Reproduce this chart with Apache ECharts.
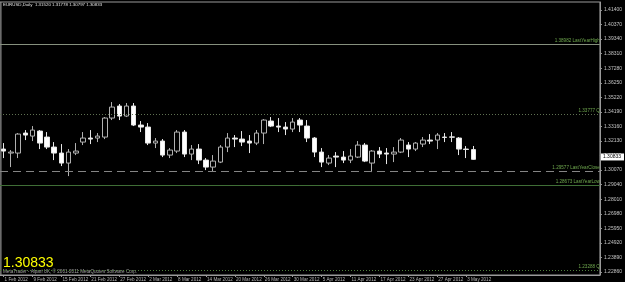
<!DOCTYPE html>
<html>
<head>
<meta charset="utf-8">
<script src="https://cdn.jsdelivr.net/npm/echarts@6/dist/echarts.min.js"></script>
<style>
  html, body { margin: 0; padding: 0; background: #000; }
  #chart { width: 625px; height: 282px; }
</style>
</head>
<body>
<div id="chart"></div>
<script>
// daily bars, EURUSD
var dates = ['3 Feb 2012', '6 Feb 2012', '7 Feb 2012', '8 Feb 2012', '9 Feb 2012', '10 Feb 2012',
  '13 Feb 2012', '14 Feb 2012', '15 Feb 2012', '16 Feb 2012', '17 Feb 2012',
  '20 Feb 2012', '21 Feb 2012', '22 Feb 2012', '23 Feb 2012', '24 Feb 2012',
  '27 Feb 2012', '28 Feb 2012', '29 Feb 2012', '1 Mar 2012', '2 Mar 2012',
  '5 Mar 2012', '6 Mar 2012', '7 Mar 2012', '8 Mar 2012', '9 Mar 2012',
  '12 Mar 2012', '13 Mar 2012', '14 Mar 2012', '15 Mar 2012', '16 Mar 2012',
  '19 Mar 2012', '20 Mar 2012', '21 Mar 2012', '22 Mar 2012', '23 Mar 2012',
  '26 Mar 2012', '27 Mar 2012', '28 Mar 2012', '29 Mar 2012', '30 Mar 2012',
  '2 Apr 2012', '3 Apr 2012', '4 Apr 2012', '5 Apr 2012', '6 Apr 2012',
  '9 Apr 2012', '10 Apr 2012', '11 Apr 2012', '12 Apr 2012', '13 Apr 2012',
  '16 Apr 2012', '17 Apr 2012', '18 Apr 2012', '19 Apr 2012', '20 Apr 2012',
  '23 Apr 2012', '24 Apr 2012', '25 Apr 2012', '26 Apr 2012', '27 Apr 2012',
  '30 Apr 2012', '1 May 2012', '2 May 2012', '3 May 2012', '4 May 2012'];

var open = [1.31559, 1.31276, 1.31276, 1.32692, 1.32479, 1.32833,
  1.32408, 1.31700, 1.31276, 1.30568, 1.31276,
  1.32054, 1.32338, 1.32338, 1.32408, 1.33754,
  1.34603, 1.33895, 1.34603, 1.33258, 1.33116,
  1.31984, 1.32125, 1.31134, 1.31417, 1.32762,
  1.31205, 1.31559, 1.30780, 1.30284, 1.30638,
  1.31700, 1.32338, 1.32267, 1.32125, 1.31984,
  1.32692, 1.33541, 1.33187, 1.33116, 1.32975,
  1.33612, 1.33187, 1.32338, 1.31346, 1.30568,
  1.31063, 1.30992, 1.30780, 1.30992, 1.31842,
  1.30568, 1.31417, 1.31276, 1.31205, 1.31346,
  1.31842, 1.31559, 1.31913, 1.32196, 1.32196,
  1.32408, 1.32420, 1.32338, 1.31559, 1.31520];

var close = [1.31417, 1.31346, 1.32621, 1.32550, 1.32904, 1.31984,
  1.31700, 1.31276, 1.30568, 1.31346, 1.31417,
  1.32338, 1.32267, 1.32479, 1.33754, 1.34532,
  1.33895, 1.34603, 1.33258, 1.33116, 1.31984,
  1.32125, 1.31134, 1.31488, 1.32762, 1.31205,
  1.31559, 1.30780, 1.30284, 1.30709, 1.31700,
  1.32338, 1.32267, 1.32054, 1.31984, 1.32692,
  1.33612, 1.33187, 1.33116, 1.32975, 1.33470,
  1.33258, 1.32338, 1.31346, 1.30638, 1.30922,
  1.30992, 1.30780, 1.31063, 1.31842, 1.30709,
  1.31417, 1.31205, 1.31205, 1.31346, 1.32196,
  1.31559, 1.31984, 1.32196, 1.32125, 1.32550,
  1.32380, 1.32400, 1.31559, 1.31530, 1.30833];

var low = [1.30922, 1.30284, 1.30922, 1.32196, 1.32125, 1.31559,
  1.31559, 1.30780, 1.30355, 1.29647, 1.31134,
  1.31842, 1.31913, 1.32054, 1.32267, 1.33612,
  1.33612, 1.33824, 1.33187, 1.32762, 1.31842,
  1.31630, 1.30992, 1.30922, 1.31276, 1.30992,
  1.30780, 1.30497, 1.30072, 1.30001, 1.30568,
  1.31346, 1.31700, 1.31771, 1.31276, 1.31842,
  1.31913, 1.33116, 1.32762, 1.32550, 1.32762,
  1.32762, 1.32054, 1.30992, 1.30284, 1.30426,
  1.30284, 1.30568, 1.30568, 1.30922, 1.30638,
  1.29930, 1.30922, 1.30497, 1.30638, 1.31276,
  1.30992, 1.31417, 1.31700, 1.31913, 1.31559,
  1.32054, 1.32054, 1.31134, 1.30922, 1.30797];

var high = [1.31984, 1.31488, 1.32692, 1.32904, 1.33187, 1.32904,
  1.32762, 1.32054, 1.31913, 1.31559, 1.31984,
  1.32762, 1.32904, 1.32692, 1.33824, 1.34886,
  1.34745, 1.34816, 1.34816, 1.33541, 1.33400,
  1.32338, 1.32267, 1.31630, 1.32904, 1.32904,
  1.31842, 1.31913, 1.30922, 1.31134, 1.31842,
  1.32692, 1.32550, 1.32833, 1.32550, 1.32904,
  1.33683, 1.33824, 1.33754, 1.33470, 1.33754,
  1.33754, 1.33612, 1.32408, 1.31630, 1.31134,
  1.31346, 1.31417, 1.31559, 1.32125, 1.31984,
  1.31488, 1.31700, 1.31630, 1.31700, 1.32338,
  1.32054, 1.32054, 1.32408, 1.32621, 1.32692,
  1.32692, 1.32762, 1.32408, 1.31771, 1.31778];

// labels along the time axis
var dateTicks = ['1 Feb 2012', '9 Feb 2012', '15 Feb 2012', '21 Feb 2012', '27 Feb 2012',
  '2 Mar 2012', '8 Mar 2012', '14 Mar 2012', '20 Mar 2012', '26 Mar 2012', '30 Mar 2012',
  '5 Apr 2012', '11 Apr 2012', '17 Apr 2012', '23 Apr 2012', '27 Apr 2012', '3 May 2012'];

// price scale labels
var priceTicks = [1.41400, 1.40370, 1.39340, 1.38310, 1.37280, 1.36250, 1.35220, 1.34190,
  1.33160, 1.32130, 1.31100, 1.30070, 1.29040, 1.28010, 1.26980, 1.25950, 1.24920,
  1.23890, 1.22860];

// horizontal levels
var levelValues = [1.38982, 1.33777, 1.29577, 1.28673, 1.23288];
var levelNames = ['LastYearHigh', 'Q', 'LastYearClose', 'LastYearLow', 'Q'];

var symbolName = 'EURUSD,Daily';
var copyright = 'MetaTrader - Alpari UK, \u00a9 2001-2011 MetaQuotes Software Corp.';

var levelStyles = [
  { color: '#86907e', type: 'solid' },
  { color: '#5f7152', type: [1, 2] },
  { color: '#858585', type: [8, 5] },
  { color: '#3f6e36', type: 'solid' },
  { color: '#4f7e3c', type: [1, 2] }
];

var ohlc = [];
for (var i = 0; i < dates.length; i++) {
  ohlc.push([open[i], close[i], low[i], high[i]]);
}
var last = dates.length - 1;

var markData = levelValues.map(function (v, k) {
  return {
    yAxis: v,
    lineStyle: { color: levelStyles[k].color, type: levelStyles[k].type, width: 1 },
    label: {
      show: true,
      position: 'insideEndTop',
      distance: [0, 1],
      formatter: v.toFixed(5) + ' ' + levelNames[k],
      color: '#6fa84e',
      fontSize: 4.6,
      fontFamily: 'Liberation Sans'
    }
  };
});
// current price box
markData.push({
  yAxis: close[last],
  lineStyle: { color: 'rgba(0,0,0,0)', width: 1 },
  label: {
    show: true,
    position: 'end',
    distance: 1,
    formatter: close[last].toFixed(5),
    color: '#000',
    backgroundColor: '#fff',
    padding: [1, 3, 1, 2],
    fontSize: 5,
    fontFamily: 'Liberation Sans'
  }
});

function tickShown(idx) {
  if (idx >= dates.length) return false;
  if (idx === 0) return true;
  return dateTicks.indexOf(dates[idx]) > 0;
}

var myChart = echarts.init(document.getElementById('chart'), null, { renderer: 'canvas' });

var option = {
  backgroundColor: '#000',
  animation: false,
  grid: {
    left: -2,
    right: 17,
    top: 2,
    bottom: 7,
    show: true,
    borderColor: '#9a9a9a',
    borderWidth: 1,
    backgroundColor: '#000'
  },
  xAxis: {
    type: 'category',
    data: dates,
    boundaryGap: true,
    min: 0,
    max: 82,
    axisLine: { show: true, lineStyle: { color: '#9a9a9a' } },
    axisTick: {
      show: true,
      alignWithLabel: true,
      interval: function (idx) { return tickShown(idx); },
      length: 2,
      lineStyle: { color: '#9a9a9a' }
    },
    axisLabel: {
      interval: function (idx) { return tickShown(idx); },
      formatter: function (value, idx) {
        return idx === 0 ? dateTicks[0] : value;
      },
      align: 'left',
      margin: 2,
      padding: [0, 0, 0, 1],
      color: '#b4b4b4',
      fontSize: 4.6,
      fontFamily: 'Liberation Sans'
    },
    splitLine: { show: false }
  },
  yAxis: {
    type: 'value',
    position: 'right',
    min: 1.22648,
    max: 1.41966,
    axisLine: { show: true, lineStyle: { color: '#9a9a9a' } },
    axisTick: { show: true, customValues: priceTicks, length: 2, lineStyle: { color: '#9a9a9a' } },
    axisLabel: {
      customValues: priceTicks,
      formatter: function (v) { return v.toFixed(5); },
      margin: 4,
      color: '#c4c4c4',
      fontSize: 5,
      fontFamily: 'Liberation Sans'
    },
    splitLine: { show: false }
  },
  series: [{
    type: 'candlestick',
    data: ohlc,
    barWidth: 5,
    clip: false,
    itemStyle: {
      color: '#000',
      color0: '#fff',
      borderColor: '#b0b0b0',
      borderColor0: '#e6e6e6',
      borderWidth: 1
    },
    markLine: {
      silent: true,
      symbol: 'none',
      animation: false,
      data: markData
    }
  }],
  graphic: [
    {
      type: 'line',
      shape: { x1: 1, y1: 2, x2: 1, y2: 275 },
      style: { stroke: '#8a8a8a', lineWidth: 1 }
    },
    {
      type: 'text',
      left: 3,
      top: 3,
      style: {
        text: symbolName + '  ' + open[last].toFixed(5) + ' ' + high[last].toFixed(5) + ' ' +
          low[last].toFixed(5) + ' ' + close[last].toFixed(5),
        fill: '#e0e0e0',
        font: '4.4px "Liberation Sans"'
      }
    },
    {
      type: 'text',
      left: 3,
      top: 256,
      style: {
        text: close[last].toFixed(5),
        fill: '#ffff00',
        font: '14px "Liberation Sans"'
      }
    },
    {
      type: 'text',
      left: 3,
      top: 269,
      style: {
        text: copyright,
        fill: '#a0a0a0',
        font: '4.6px "Liberation Sans"'
      }
    }
  ]
};

myChart.setOption(option);
</script>
</body>
</html>
